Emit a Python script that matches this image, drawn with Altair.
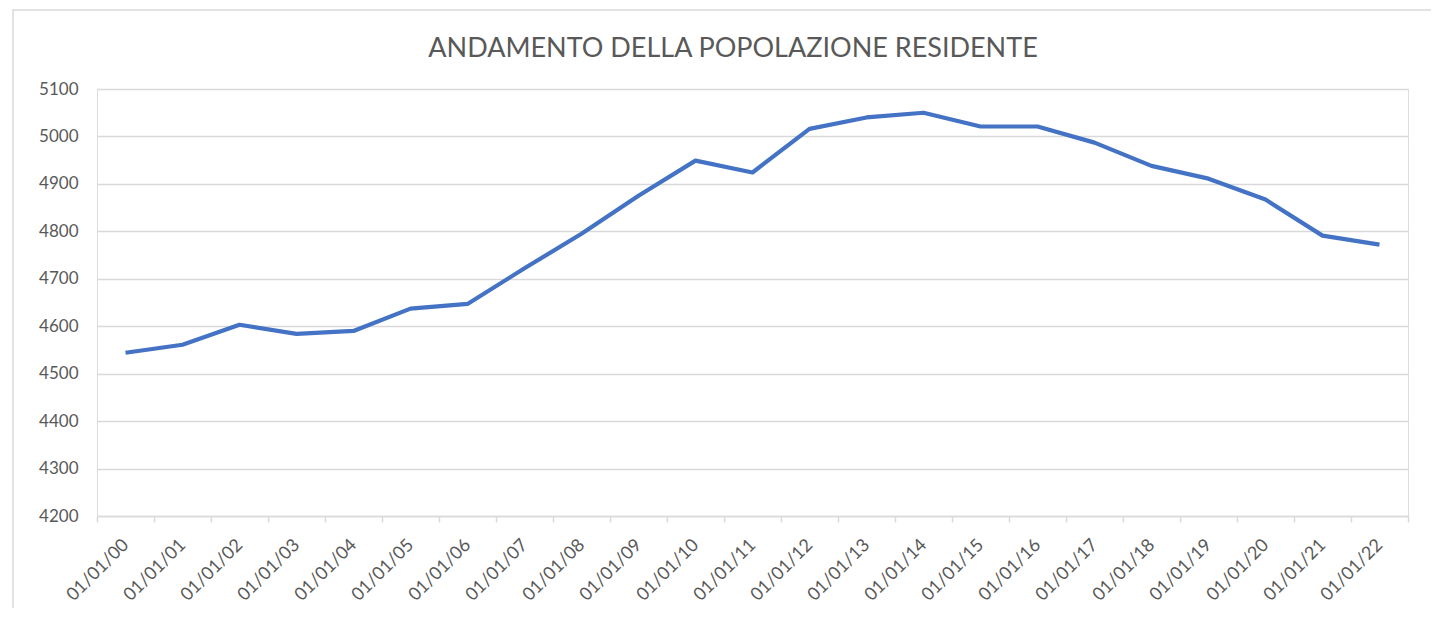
import altair as alt
import pandas as pd

dates = ["01/01/00", "01/01/01", "01/01/02", "01/01/03", "01/01/04", "01/01/05",
         "01/01/06", "01/01/07", "01/01/08", "01/01/09", "01/01/10", "01/01/11",
         "01/01/12", "01/01/13", "01/01/14", "01/01/15", "01/01/16", "01/01/17",
         "01/01/18", "01/01/19", "01/01/20", "01/01/21", "01/01/22"]
popolazione = [4544, 4561, 4603, 4584, 4590, 4637, 4647, 4722, 4795, 4875, 4949, 4924,
               5016, 5040, 5050, 5021, 5021, 4987, 4938, 4911, 4867, 4791, 4772]
y_ticks = [4200, 4300, 4400, 4500, 4600, 4700, 4800, 4900, 5000, 5100]
titolo = "ANDAMENTO DELLA POPOLAZIONE RESIDENTE"

df = pd.DataFrame({"data": dates, "pop": popolazione})

W, H = 1311, 427
PL, PT, PR, PB = 89, 81, 23, 92

border = alt.Chart(pd.DataFrame({"k": [0]})).mark_rect(
    filled=False, stroke="#d9d9d9", strokeWidth=1.5
).encode(
    x=alt.value(-84), x2=alt.value(1400), y=alt.value(-79), y2=alt.value(560)
)

title = alt.Chart(pd.DataFrame({"t": [titolo]})).mark_text(
    font="Lato", fontSize=27, color="#595959", align="center", baseline="alphabetic"
).encode(text="t:N", x=alt.value(636), y=alt.value(-32))

line = alt.Chart(df).mark_line(color="#4472C4", strokeWidth=4.2, strokeJoin="round").encode(
    x=alt.X("data:O", sort=dates, scale=alt.Scale(type="band", paddingInner=0, paddingOuter=0),
            axis=alt.Axis(title=None, labelAngle=-45, labelAlign="right", labelBaseline="middle",
                          labelPadding=20, labelFont="Lato", labelFontSize=18, labelColor="#595959",
                          domainColor="#d9d9d9", domainWidth=1.5, tickColor="#d9d9d9", tickWidth=1.5,
                          tickSize=6, tickBand="extent", grid=False, labelOverlap=False)),
    y=alt.Y("pop:Q", scale=alt.Scale(domain=[4200, 5100], nice=False, zero=False),
            axis=alt.Axis(title=None, values=y_ticks, format="d", labelFont="Lato", labelFontSize=17,
                          labelColor="#595959", labelPadding=19, domain=False, ticks=False,
                          gridColor="#d9d9d9", gridWidth=1.5)),
)

chart = alt.layer(border, title, line).properties(
    width=W, height=H,
    autosize=alt.AutoSizeParams(type="none"),
    padding={"left": PL, "top": PT, "right": PR, "bottom": PB},
).configure_view(stroke=None).configure(background="white")

chart.save("out.html", embed_options={"renderer": "svg", "actions": False})
